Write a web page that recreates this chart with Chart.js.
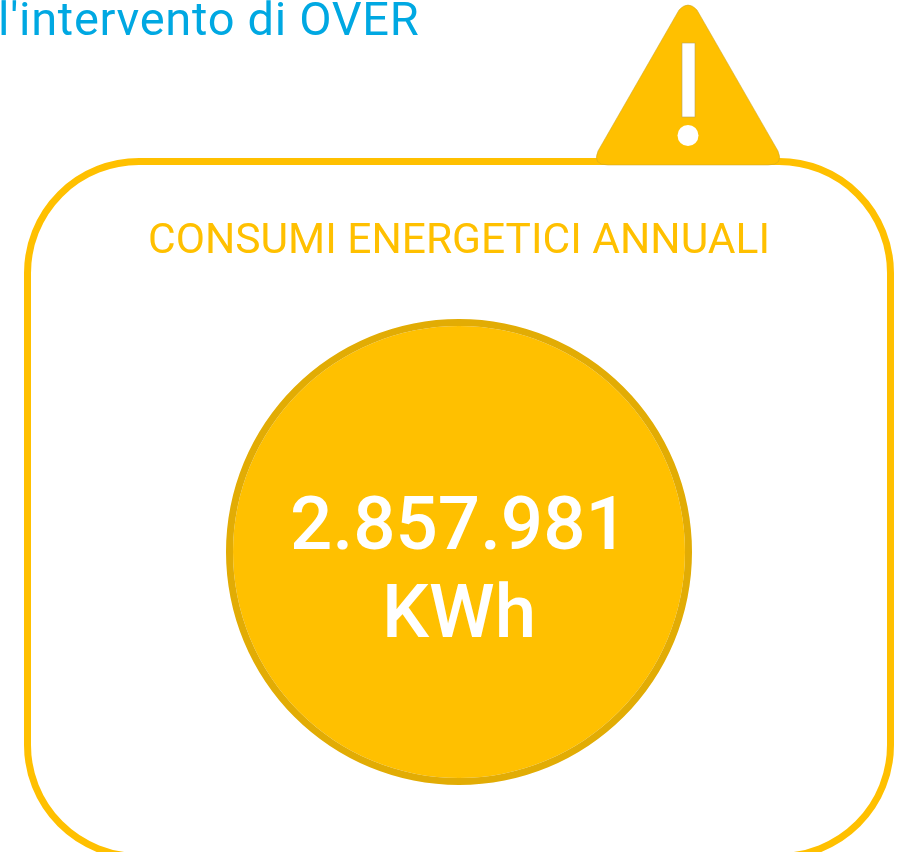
<!DOCTYPE html>
<html lang="it">
<head>
<meta charset="utf-8">
<title>Consumi energetici annuali</title>
<script src="https://cdn.jsdelivr.net/npm/chart.js@4"></script>
<style>
  html, body { margin: 0; padding: 0; background: #fff; overflow: hidden; }
  #page { position: relative; width: 904px; height: 852px; overflow: hidden; font-family: Roboto, sans-serif; }
  #chart { position: absolute; left: 0; top: 0; }
  #frame { position: absolute; left: 24px; top: 158px; width: 856px; height: 688px; border: 7px solid #ffc000; border-radius: 115px; }
  #warning { position: absolute; left: 0; top: 0; }
  .txt { position: absolute; white-space: nowrap; line-height: 1; }
  #heading { left: -2px; top: -5px; font-size: 47px; letter-spacing: 0.7px; color: #00a8e2; }
  #subtitle { left: 0; width: 918px; top: 218px; text-align: center; font-size: 42.5px; color: #ffc000; }
  .big { left: 0; width: 918px; text-align: center; font-size: 74.5px; font-weight: 500; color: #fff; }
</style>
</head>
<body>
<div id="page">
  <div id="frame"></div>
  <svg id="warning" width="904" height="180">
    <path d="M679 10 Q688 0 697 10 L778 151 Q784 165 768 165 L608 165 Q592 165 598 151 Z" fill="#ffc000" stroke="#c9a227" stroke-width="0.5"/>
    <rect x="682" y="43" width="13" height="74" fill="#fff" stroke="#b9a15a" stroke-width="0.6"/>
    <circle cx="688" cy="135.5" r="10.5" fill="#fff"/>
  </svg>
  <canvas id="chart" width="904" height="852"></canvas>
  <div id="heading" class="txt"></div>
  <div id="subtitle" class="txt"></div>
  <div id="valore" class="txt big" style="top:487px"></div>
  <div id="unita" class="txt big" style="top:575px"></div>
</div>
<script>
// dati
const heading = "l'intervento di OVER";
const categorie = ['CONSUMI ENERGETICI ANNUALI'];
const valori = [2857981];
const etichettaValore = '2.857.981';
const unita = 'KWh';

document.getElementById('heading').textContent = heading;
document.getElementById('subtitle').textContent = categorie[0];
document.getElementById('valore').textContent = etichettaValore;
document.getElementById('unita').textContent = unita;

// anello esterno + disco pieno, cosi il bordo non ha la giuntura della fetta
new Chart(document.getElementById('chart').getContext('2d'), {
  type: 'pie',
  data: {
    labels: categorie,
    datasets: [
      { data: valori, backgroundColor: ['#e2ac04'], borderWidth: 0, weight: 7 },
      { data: valori, backgroundColor: ['#ffc000'], borderWidth: 0, weight: 226 },
    ],
  },
  options: {
    responsive: false,
    animation: false,
    layout: { padding: { left: 226, right: 212, top: 319, bottom: 67 } },
    plugins: { legend: { display: false }, tooltip: { enabled: false } },
  },
});
</script>
</body>
</html>
